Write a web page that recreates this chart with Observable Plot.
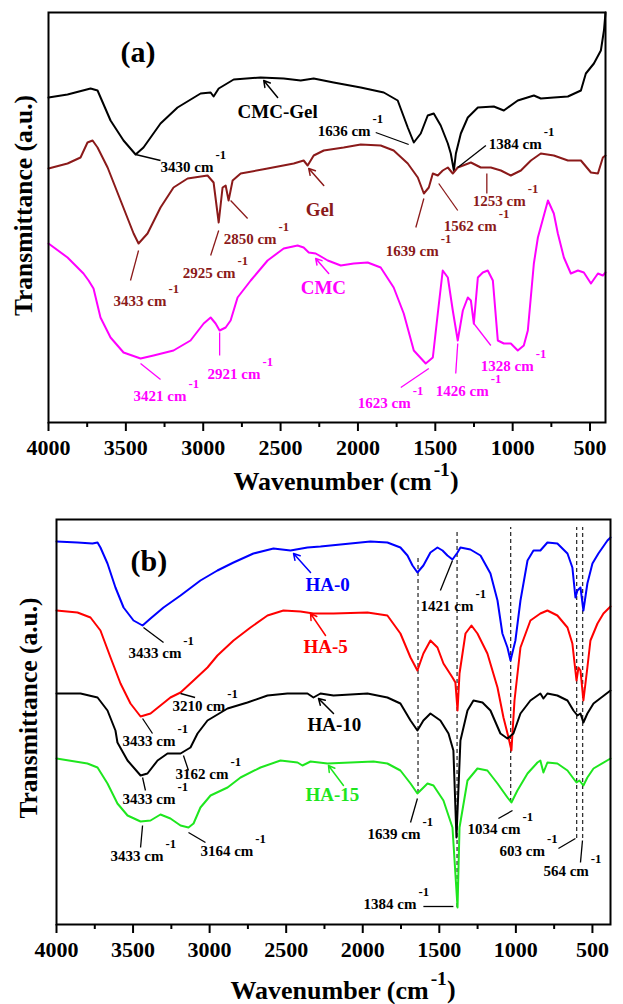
<!DOCTYPE html>
<html><head><meta charset="utf-8">
<script src="https://cdn.jsdelivr.net/npm/d3@7"></script>
<script src="https://cdn.jsdelivr.net/npm/@observablehq/plot@0.6"></script>
<style>
body{margin:0;background:#fff;}
#chart{width:623px;}
#chart svg{display:block;}
#chart svg text, #chart svg tspan{font-family:"Liberation Serif","Times New Roman","DejaVu Serif",serif !important;font-weight:bold;}
</style></head><body><div id="chart"></div>
<script>
const FONT = "Liberation Serif";
const GEL = "#8b1a1a", CMC = "#ff00ff", BLUE = "#0000ff", RED = "#ff0000", GREEN = "#1ee61e", BLK = "#000000";

// ---------- Panel (a) data: [wavenumber, transmittance (a.u.)] ----------
const cmcGel = [[4000,325],[3877,328],[3728,334],[3683,332],[3599,302],[3515,282],[3437,268],[3386,275],[3276,299],[3166,315],[3017,329],[2952,330],[2933,326],[2900,334],[2803,343],[2629,345],[2480,344],[2370,342],[2286,344],[2157,340],[1982,335],[1833,330],[1743,322],[1678,295],[1639,280],[1594,289],[1549,307],[1510,309],[1465,297],[1419,279],[1400,269],[1380,252],[1367,269],[1335,289],[1290,305],[1225,315],[1122,316],[1057,312],[967,322],[863,327],[818,324],[734,325],[643,326],[559,332],[527,349],[475,359],[430,372],[410,392],[400,410]];
const gel = [[4000,254],[3877,259],[3793,265],[3748,280],[3715,282],[3683,275],[3618,255],[3534,222],[3450,189],[3418,179],[3360,189],[3276,215],[3192,235],[3101,244],[2972,247],[2933,240],[2900,200],[2875,235],[2855,237],[2836,222],[2810,242],[2758,249],[2584,254],[2415,259],[2351,262],[2325,257],[2286,267],[2221,272],[2092,275],[1982,278],[1853,277],[1769,272],[1678,259],[1613,245],[1574,229],[1542,235],[1516,249],[1484,247],[1452,252],[1419,255],[1387,249],[1355,255],[1270,260],[1206,255],[1141,255],[1076,252],[1012,247],[947,252],[882,262],[818,269],[734,267],[643,262],[559,262],[494,250],[449,249],[417,265],[400,267]];
const cmc = [[4000,179],[3877,165],[3774,149],[3741,142],[3709,134],[3664,105],[3599,85],[3515,70],[3405,64],[3321,67],[3192,72],[3082,82],[2997,99],[2952,105],[2920,99],[2894,92],[2855,95],[2823,102],[2778,125],[2693,142],[2584,162],[2480,174],[2390,177],[2351,175],[2318,170],[2273,169],[2195,162],[2111,157],[2027,159],[1937,160],[1853,155],[1769,135],[1704,109],[1639,72],[1562,59],[1516,65],[1484,109],[1452,152],[1419,145],[1387,112],[1355,82],[1322,112],[1290,125],[1270,122],[1251,99],[1225,145],[1193,150],[1161,152],[1128,142],[1096,82],[1057,79],[1012,79],[967,72],[928,77],[902,92],[863,159],[837,185],[772,222],[734,209],[708,189],[669,165],[624,149],[578,152],[540,150],[494,139],[449,149],[417,147],[400,150]];

const seriesLabelsA = [
  {label:"CMC-Gel", x:2778, y:305, color:BLK},
  {label:"Gel", x:2338, y:207, color:GEL},
  {label:"CMC", x:2370, y:129, color:CMC}
];
const arrowsA = [
  {x1:2519,y1:325,x2:2609,y2:342,color:BLK},
  {x1:2221,y1:237,x2:2318,y2:254,color:GEL},
  {x1:2189,y1:149,x2:2273,y2:164,color:CMC}
];
const peaksA = [
  {label:"3430 cm-1", x:3276, y:251, color:BLK},
  {label:"1636 cm-1", x:2260, y:287, color:BLK},
  {label:"1384 cm-1", x:1154, y:274, color:BLK},
  {label:"2850 cm-1", x:2868, y:179, color:GEL},
  {label:"2925 cm-1", x:3133, y:145, color:GEL},
  {label:"3433 cm-1", x:3580, y:117, color:GEL},
  {label:"1639 cm-1", x:1820, y:167, color:GEL},
  {label:"1562 cm-1", x:1445, y:192, color:GEL},
  {label:"1253 cm-1", x:1258, y:217, color:GEL},
  {label:"2921 cm-1", x:2972, y:44, color:CMC},
  {label:"3421 cm-1", x:3450, y:22, color:CMC},
  {label:"1623 cm-1", x:2001, y:15, color:CMC},
  {label:"1426 cm-1", x:1497, y:27, color:CMC},
  {label:"1328 cm-1", x:1206, y:52, color:CMC}
];
const leadersA = [
  {x1:3437,y1:268,x2:3276,y2:262,color:BLK},
  {x1:1885,y1:290,x2:1672,y2:278,color:BLK},
  {x1:1173,y1:277,x2:1355,y2:255,color:BLK},
  {x1:2823,y1:222,x2:2713,y2:204,color:GEL},
  {x1:2900,y1:192,x2:2952,y2:167,color:GEL},
  {x1:3418,y1:172,x2:3470,y2:142,color:GEL},
  {x1:1574,y1:224,x2:1626,y2:195,color:GEL},
  {x1:1478,y1:239,x2:1355,y2:212,color:GEL},
  {x1:1167,y1:249,x2:1167,y2:229,color:GEL},
  {x1:2894,y1:90,x2:2894,y2:67,color:CMC},
  {x1:3405,y1:59,x2:3276,y2:43,color:CMC},
  {x1:1542,y1:54,x2:1723,y2:35,color:CMC},
  {x1:1355,y1:79,x2:1368,y2:49,color:CMC},
  {x1:1251,y1:99,x2:1141,y2:77,color:CMC}
];

// ---------- Panel (b) data ----------
const ha0 = [[4000,383],[3863,382],[3765,381],[3732,382],[3713,377],[3667,361],[3615,337],[3562,317],[3497,304],[3438,299],[3386,306],[3301,317],[3190,329],[3060,344],[2949,354],[2844,362],[2714,371],[2583,376],[2472,374],[2361,377],[2276,378],[2080,381],[1950,383],[1839,382],[1754,377],[1708,369],[1675,359],[1643,352],[1604,359],[1558,372],[1512,377],[1479,374],[1447,369],[1414,365],[1381,372],[1362,377],[1297,375],[1231,369],[1166,351],[1120,324],[1088,291],[1055,277],[1035,264],[1003,284],[970,324],[924,364],[885,374],[840,374],[794,382],[729,381],[663,371],[631,357],[611,327],[598,334],[578,337],[559,314],[533,341],[500,361],[461,371],[402,384],[382,387]];
const ha5 = [[4000,314],[3863,312],[3778,307],[3713,294],[3647,267],[3582,241],[3517,221],[3451,208],[3386,211],[3321,219],[3256,227],[3190,232],[3105,244],[3014,257],[2949,269],[2844,284],[2733,297],[2622,309],[2518,314],[2407,313],[2322,311],[2191,311],[1969,312],[1839,309],[1754,291],[1688,267],[1643,254],[1604,271],[1558,284],[1512,277],[1473,261],[1414,247],[1395,242],[1381,214],[1368,251],[1329,291],[1290,299],[1251,291],[1186,271],[1120,237],[1081,207],[1048,187],[1029,174],[1009,224],[970,277],[905,304],[840,311],[794,314],[729,309],[663,297],[631,281],[604,244],[591,257],[578,254],[559,224],[533,257],[513,284],[467,301],[428,311],[382,318]];
const ha10 = [[4000,231],[3843,231],[3732,227],[3667,214],[3615,194],[3602,182],[3536,164],[3451,149],[3406,151],[3340,164],[3275,171],[3190,171],[3125,177],[3079,191],[3014,204],[2883,216],[2753,222],[2622,229],[2492,231],[2407,231],[2361,231],[2322,227],[2276,231],[2191,229],[1969,231],[1839,227],[1754,221],[1688,204],[1643,194],[1604,204],[1558,211],[1493,204],[1440,191],[1408,174],[1388,87],[1362,184],[1316,214],[1277,224],[1218,222],[1166,214],[1101,191],[1055,186],[1016,191],[970,211],[905,224],[840,231],[820,226],[794,231],[729,229],[663,224],[624,214],[598,209],[578,211],[559,202],[533,211],[493,221],[382,234]];
const ha15 = [[4000,166],[3798,161],[3732,157],[3667,141],[3602,121],[3536,109],[3451,103],[3386,104],[3321,110],[3256,106],[3190,99],[3138,97],[3105,101],[3060,117],[2994,129],[2883,137],[2798,147],[2668,157],[2537,164],[2426,162],[2394,159],[2341,163],[2230,161],[2080,162],[1930,163],[1839,161],[1754,154],[1688,141],[1643,131],[1577,141],[1538,139],[1473,124],[1414,97],[1381,17],[1368,97],[1316,144],[1251,156],[1186,154],[1120,141],[1055,127],[1029,122],[990,134],[924,151],[859,162],[840,164],[820,152],[794,162],[729,161],[663,154],[624,146],[604,142],[585,144],[559,139],[533,147],[493,156],[382,166]];

const markerWN = [1639, 1384, 1034, 603, 564];
const markerLow = [131, 17, 122, 86, 86];
const markerHigh = [367, 394, 397, 397, 397];

const seriesLabelsB = [
  {label:"HA-0", x:2374, y:334, color:BLUE},
  {label:"HA-5", x:2387, y:272, color:RED},
  {label:"HA-10", x:2361, y:194, color:BLK},
  {label:"HA-15", x:2374, y:124, color:GREEN}
];
const arrowsB = [
  {x1:2341,y1:352,x2:2452,y2:371,color:BLUE},
  {x1:2243,y1:289,x2:2341,y2:311,color:RED},
  {x1:2191,y1:211,x2:2289,y2:226,color:BLK},
  {x1:2126,y1:139,x2:2224,y2:159,color:GREEN}
];
const peaksB = [
  {label:"1421 cm-1", x:1623, y:314},
  {label:"3433 cm-1", x:3530, y:267},
  {label:"3210 cm-1", x:3243, y:214},
  {label:"3433 cm-1", x:3569, y:179},
  {label:"3162 cm-1", x:3223, y:146},
  {label:"3433 cm-1", x:3569, y:121},
  {label:"3433 cm-1", x:3647, y:64},
  {label:"3164 cm-1", x:3060, y:69},
  {label:"1639 cm-1", x:1969, y:86},
  {label:"1384 cm-1", x:1995, y:16},
  {label:"1034 cm-1", x:1316, y:91},
  {label:"603 cm-1", x:1107, y:69},
  {label:"564 cm-1", x:820, y:49}
];
const leadersB = [
  {x1:1493,y1:334,x2:1414,y2:364},
  {x1:3432,y1:297,x2:3301,y2:282},
  {x1:3190,y1:231,x2:3095,y2:227},
  {x1:3438,y1:206,x2:3373,y2:191},
  {x1:3171,y1:169,x2:3138,y2:154},
  {x1:3438,y1:147,x2:3419,y2:134},
  {x1:3438,y1:99,x2:3451,y2:77},
  {x1:3138,y1:92,x2:3027,y2:82},
  {x1:1643,y1:126,x2:1688,y2:102},
  {x1:1604,y1:18,x2:1408,y2:18},
  {x1:1114,y1:106,x2:1022,y2:114},
  {x1:722,y1:76,x2:611,y2:86},
  {x1:565,y1:84,x2:578,y2:62}
];

const majorTicks = [4000,3500,3000,2500,2000,1500,1000,500];
const minorTicks = [3750,3250,2750,2250,1750,1250,750];
const xTitle = "Wavenumber (cm-1)";
const yTitle = "Transmittance (a.u.)";

function curve(data, color) {
  return Plot.line(data, {x: d => d[0], y: d => d[1], stroke: color, strokeWidth: 2, strokeLinejoin: "round"});
}
function axes() {
  return [
    Plot.axisX({ticks: majorTicks, tickSize: 9, tickPadding: 8, strokeWidth: 2, fontSize: 22, fontFamily: FONT, tickFormat: d => String(d), label: null}),
    Plot.axisX({ticks: minorTicks, tickSize: 5, strokeWidth: 2, tickFormat: () => "", label: null})
  ];
}
function sup(svg) {
  d3.select(svg).selectAll("text").each(function() {
    const m = /^(.*cm)-1(\))?$/.exec(this.textContent);
    if (!m) return;
    const s = d3.select(this);
    s.text(m[1]);
    if (m[2]) {
      s.append("tspan").attr("font-size", "0.75em").attr("dy", "-0.67em").attr("dx", "2").text("-1");
      s.append("tspan").attr("font-size", "1em").attr("dy", "0.5em").text(")");
    } else {
      s.append("tspan").attr("font-size", "0.85em").attr("dy", "-1.0em").attr("dx", "2").text("-1");
    }
  });
  return svg;
}
const style = "font-family: 'Liberation Serif', serif; font-weight: bold; color: black; background: white;";
const T = {fontFamily: FONT, fontWeight: "bold"};

const plotA = Plot.plot({
  width: 623, height: 497,
  marginLeft: 48, marginRight: 18, marginTop: 12, marginBottom: 75,
  style,
  x: {domain: [4000, 400]},
  y: {domain: [0, 410], axis: null},
  marks: [
    curve(cmcGel, BLK), curve(gel, GEL), curve(cmc, CMC),
    Plot.link(leadersA, {x1:"x1", y1:"y1", x2:"x2", y2:"y2", stroke:"color", strokeWidth:1.3}),
    Plot.arrow(arrowsA, {x1:"x1", y1:"y1", x2:"x2", y2:"y2", stroke:"color", strokeWidth:1.5, headLength:7}),
    Plot.text(peaksA, {...T, x:"x", y:"y", text:"label", fill:"color", fontSize:15, textAnchor:"start", lineAnchor:"bottom"}),
    Plot.text(seriesLabelsA, {...T, x:"x", y:"y", text:"label", fill:"color", fontSize:19, textAnchor:"start", lineAnchor:"bottom"}),
    Plot.text(["(a)"], {...T, frameAnchor:"top-left", dx:72, dy:49, fontSize:30, textAnchor:"start", lineAnchor:"bottom"}),
    Plot.text([yTitle], {...T, frameAnchor:"left", rotate:-90, dx:-25, dy:-12, fontSize:25.5, textAnchor:"middle", lineAnchor:"middle"}),
    Plot.text([xTitle], {...T, frameAnchor:"bottom-left", dx:185, dy:67, fontSize:26, textAnchor:"start", lineAnchor:"bottom"}),
    ...axes(),
    Plot.frame({stroke:"black", strokeWidth:2})
  ]
});

const markers = markerWN.map((x, i) => ({x, y1: markerLow[i], y2: markerHigh[i]}));
const plotB = Plot.plot({
  width: 623, height: 507,
  marginLeft: 56, marginRight: 13, marginTop: 22, marginBottom: 80,
  style,
  x: {domain: [4000, 382]},
  y: {domain: [0, 405], axis: null},
  marks: [
    Plot.ruleX(markers, {x:"x", y1:"y1", y2:"y2", stroke:"#333", strokeWidth:1.3, strokeDasharray:"4,3"}),
    curve(ha0, BLUE), curve(ha5, RED), curve(ha10, BLK), curve(ha15, GREEN),
    Plot.link(leadersB, {x1:"x1", y1:"y1", x2:"x2", y2:"y2", stroke:"black", strokeWidth:1.3}),
    Plot.arrow(arrowsB, {x1:"x1", y1:"y1", x2:"x2", y2:"y2", stroke:"color", strokeWidth:1.5, headLength:7}),
    Plot.text(peaksB, {...T, x:"x", y:"y", text:"label", fill:"black", fontSize:15, textAnchor:"start", lineAnchor:"bottom"}),
    Plot.text(seriesLabelsB, {...T, x:"x", y:"y", text:"label", fill:"color", fontSize:19, textAnchor:"start", lineAnchor:"bottom"}),
    Plot.text(["(b)"], {...T, frameAnchor:"top-left", dx:74, dy:51, fontSize:30, textAnchor:"start", lineAnchor:"bottom"}),
    Plot.text([yTitle], {...T, frameAnchor:"left", rotate:-90, dx:-28, dy:-14, fontSize:25.5, textAnchor:"middle", lineAnchor:"middle"}),
    Plot.text([xTitle], {...T, frameAnchor:"bottom-left", dx:174, dy:74, fontSize:26, textAnchor:"start", lineAnchor:"bottom"}),
    ...axes(),
    Plot.frame({stroke:"black", strokeWidth:2})
  ]
});

const root = document.getElementById("chart");
root.appendChild(sup(plotA));
root.appendChild(sup(plotB));
</script>
</body></html>
